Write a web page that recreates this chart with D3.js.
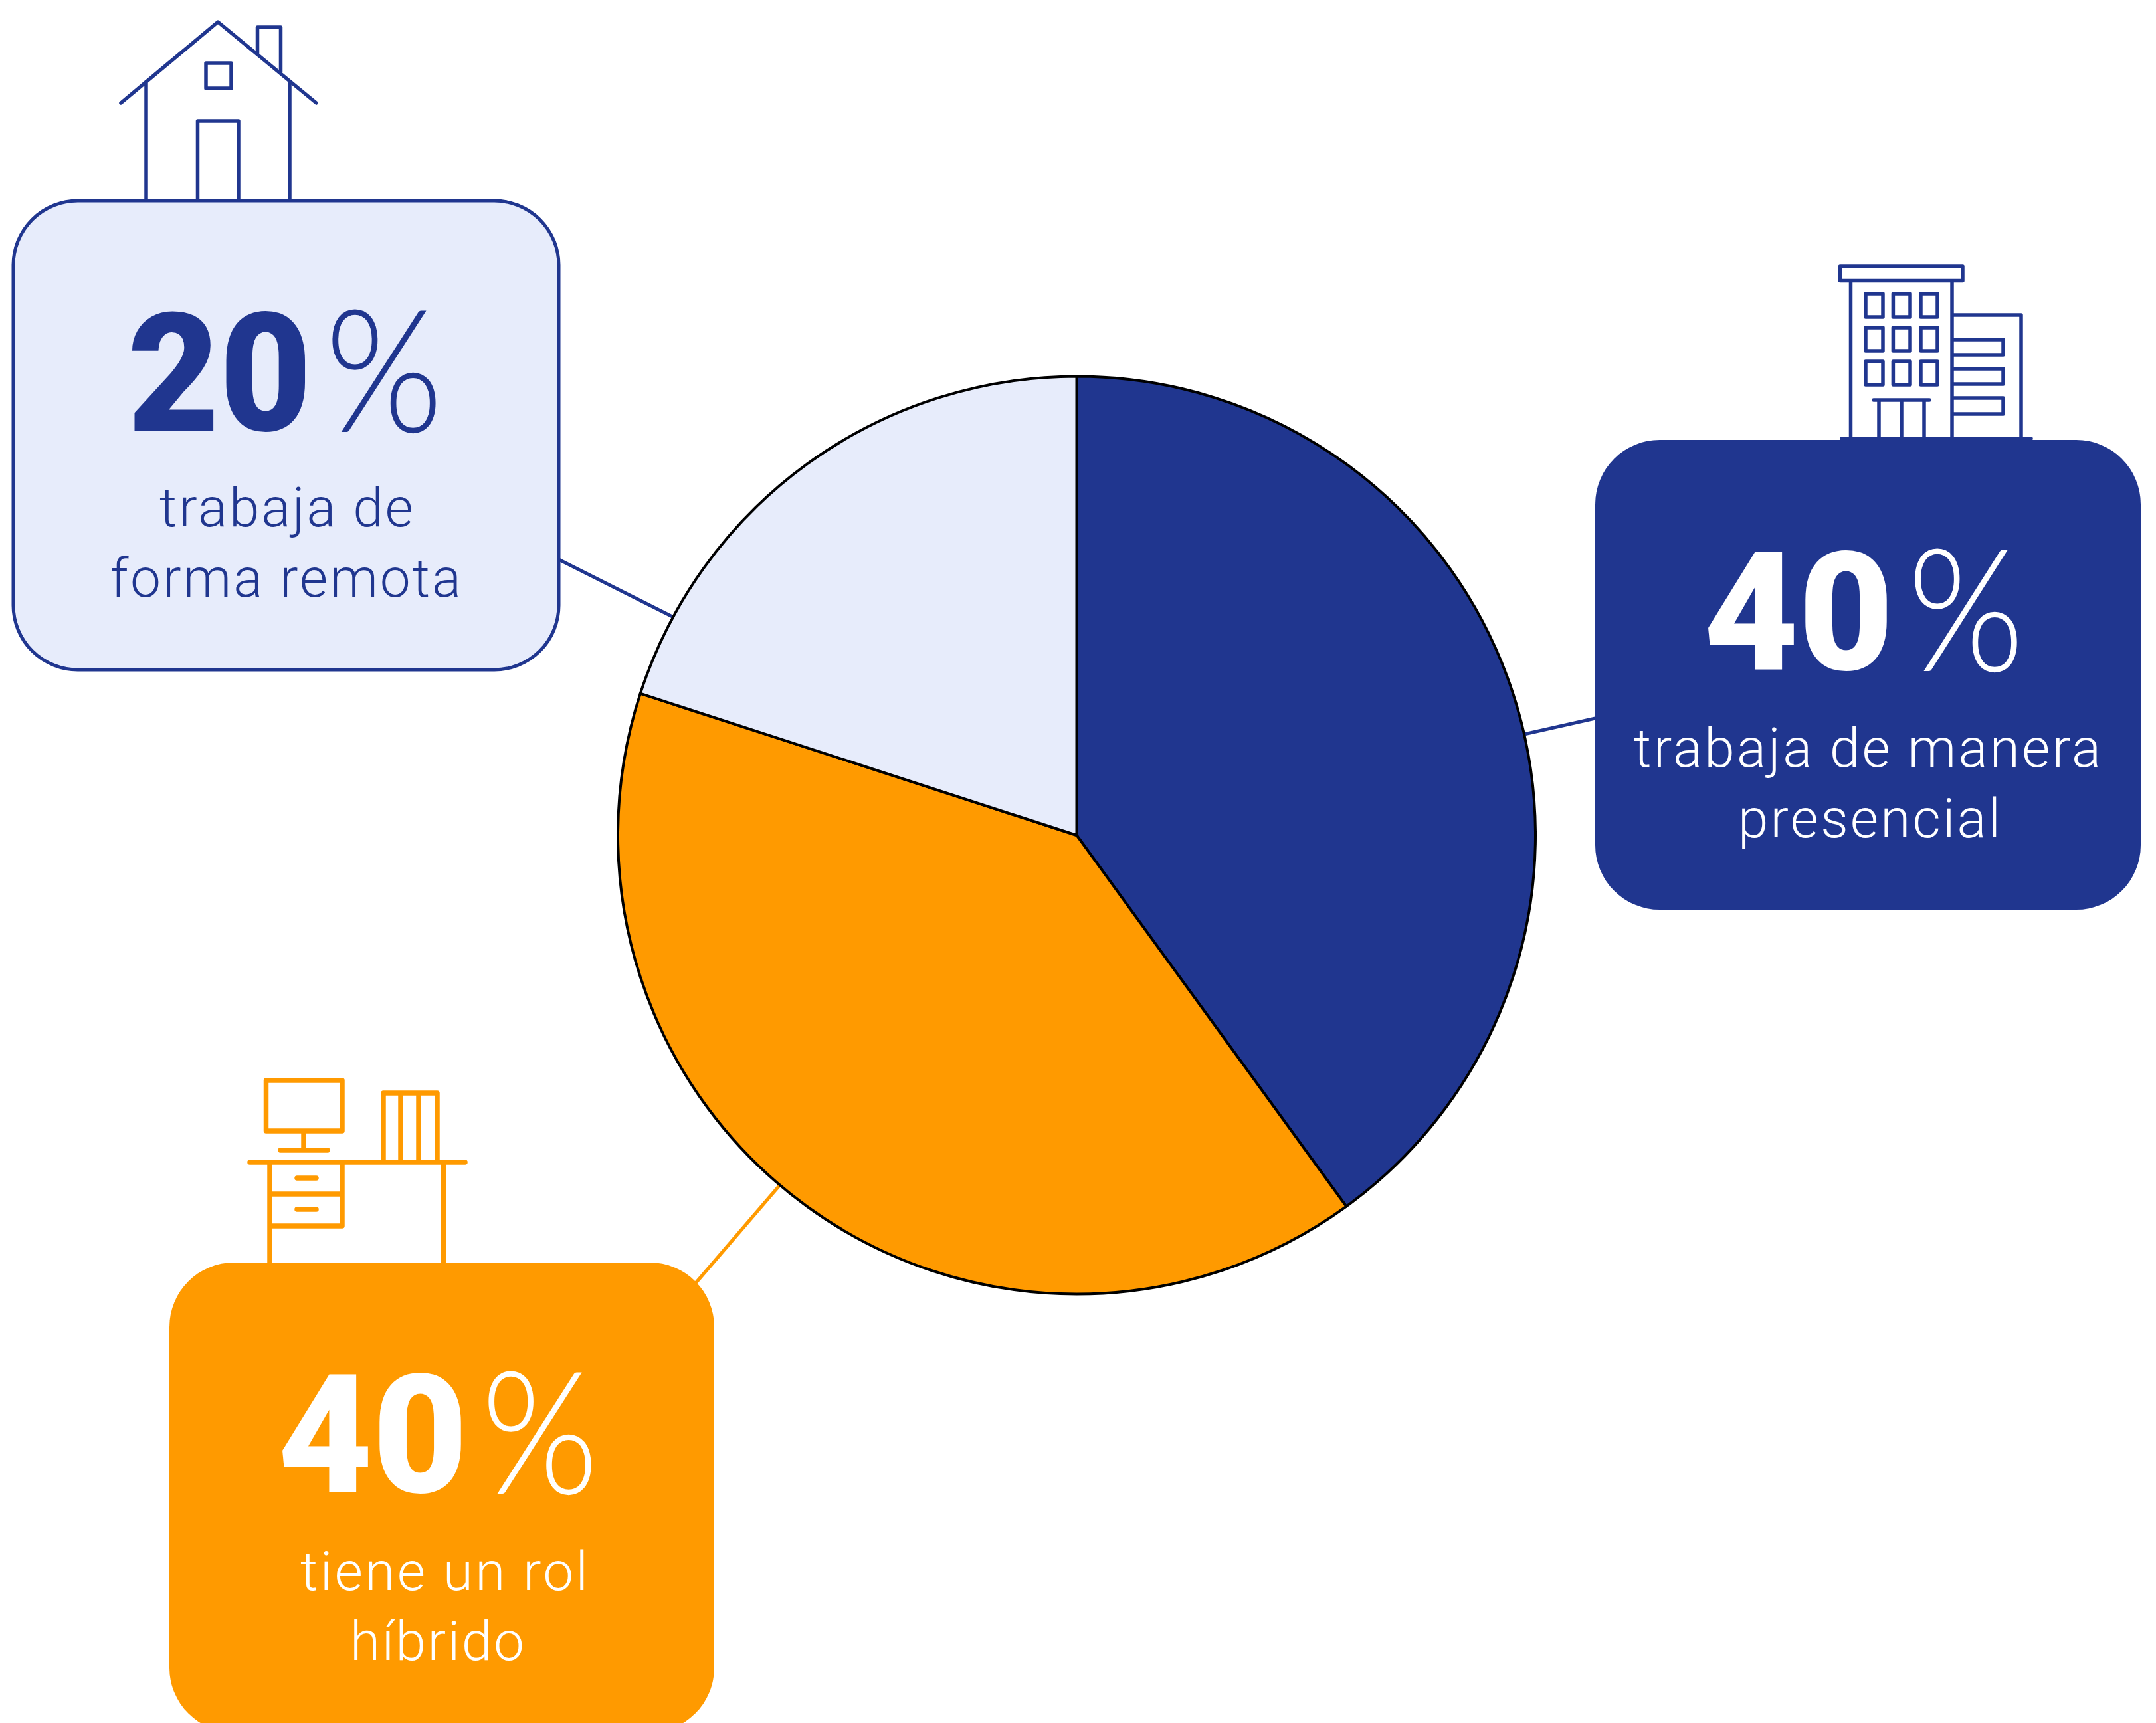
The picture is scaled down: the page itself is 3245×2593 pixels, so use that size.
<!DOCTYPE html>
<html>
<head>
<meta charset="utf-8">
<script src="https://cdn.jsdelivr.net/npm/d3@7"></script>
<style>
  html, body { margin: 0; padding: 0; background: #fff; }
  svg { display: block; }
  text { font-family: Roboto, sans-serif; }
</style>
</head>
<body>
<svg id="chart"></svg>
<script>
var screen_ = {width: 3245, height: 2593};

// data
var categories = ["presencial", "hibrido", "remota"];
var values = [40, 40, 20];
var captions = [
  ["trabaja de manera", "presencial"],
  ["tiene un rol", "híbrido"],
  ["trabaja de", "forma remota"]
];

// styles
var navy = "#20368f", orange = "#ff9a00", pale = "#e7ecfb";
var sliceColors = [navy, orange, pale];
var lineColors = [navy, orange, navy];
var textColors = ["#fff", "#fff", navy];
var boxStrokes = ["none", "none", navy];

// layout, one entry per category
var boxes = [
  {x: 2401, y: 662, w: 821, h: 707},
  {x: 255, y: 1900, w: 820, h: 707},
  {x: 20, y: 302, w: 821, h: 706}
];
var numberPos = [
  {x: 2564, w: 286, px: 2871, pw: 176, y: 1008},
  {x: 418, w: 286, px: 724, pw: 177, y: 2246},
  {x: 192, w: 277, px: 489, pw: 178, y: 648}
];
var captionPos = [
  [{x: 2459, w: 703, y: 1154}, {x: 2616, w: 395, y: 1260}],
  [{x: 452, w: 433, y: 2393}, {x: 527, w: 262, y: 2498}],
  [{x: 240, w: 382, y: 792}, {x: 166, w: 528, y: 898}]
];
var leaders = [
  [[2294, 1105], [2401, 1081]],
  [[1175, 1782], [1047, 1931]],
  [[841, 842], [1012, 928]]
];

var svg = d3.select("#chart")
  .attr("width", screen_.width)
  .attr("height", screen_.height)
  .attr("viewBox", "0 0 " + screen_.width + " " + screen_.height);

svg.append("rect")
  .attr("width", screen_.width)
  .attr("height", screen_.height)
  .attr("fill", "#fff");

// leader lines go under everything else
svg.append("g").selectAll("path")
  .data(leaders)
  .enter()
  .append("path")
  .attr("d", d3.line())
  .attr("fill", "none")
  .attr("stroke", function(d, i){ return lineColors[i]; })
  .attr("stroke-width", 5);

// pie
var pie = d3.pie().sort(null).value(function(d){ return d; });
var arc = d3.arc().innerRadius(0).outerRadius(690.5);

svg.append("g")
  .attr("transform", "translate(1620.5,1257)")
  .selectAll("path")
  .data(pie(values))
  .enter()
  .append("path")
  .attr("d", arc)
  .attr("fill", function(d, i){ return sliceColors[i]; })
  .attr("stroke", "#000")
  .attr("stroke-width", 4)
  .attr("stroke-linejoin", "round");

// icons
var houseIcon = "M182,155 L328,33 L476,155 M220,123 V302 M436,123 V302 " +
  "M297.5,302 V182 H359 V302 M310,95 H348 V133 H310 Z " +
  "M387.5,81 V41 H422.5 V108";

var buildingIcon = "M2769.5,401 H2954 V422.6 H2769.5 Z M2785.5,422.6 V660 M2938,422.6 V660 " +
  "M2808,442 H2834 V477 H2808 Z M2849.4,442 H2875 V477 H2849.4 Z M2891,442 H2916 V477 H2891 Z " +
  "M2808,493 H2834 V528 H2808 Z M2849.4,493 H2875 V528 H2849.4 Z M2891,493 H2916 V528 H2891 Z " +
  "M2808,544 H2834 V579 H2808 Z M2849.4,544 H2875 V579 H2849.4 Z M2891,544 H2916 V579 H2891 Z " +
  "M2820,602 H2904 M2828,602 V660 M2862,602 V660 M2896,602 V660 " +
  "M2938,474 H3042 V660 " +
  "M2938,511 H3015 V534 H2938 M2938,555 H3015 V578 H2938 M2938,599 H3015 V623 H2938 " +
  "M2772,660 H3057";

var deskIcon = "M400.5,1626 H515 V1702 H400.5 Z M457,1702 V1731 M422,1731 H493 " +
  "M376,1749 H700 M406,1749 V1905 M667.5,1749 V1905 " +
  "M515,1749 V1845 H406 M406,1797 H515 M447,1773 H476 M447,1820 H476 " +
  "M577,1749 V1645 H658 V1749 M603,1645 V1749 M630,1645 V1749";

var icons = [
  {d: buildingIcon, color: navy, width: 5.5},
  {d: deskIcon, color: orange, width: 7.5},
  {d: houseIcon, color: navy, width: 5.5}
];

svg.append("g").selectAll("path")
  .data(icons)
  .enter()
  .append("path")
  .attr("d", function(d){ return d.d; })
  .attr("fill", "none")
  .attr("stroke", function(d){ return d.color; })
  .attr("stroke-width", function(d){ return d.width; })
  .attr("stroke-linecap", "round")
  .attr("stroke-linejoin", "round");

// callout boxes
var callouts = svg.append("g").selectAll("g")
  .data(categories)
  .enter()
  .append("g");

callouts.append("rect")
  .attr("x", function(d, i){ return boxes[i].x; })
  .attr("y", function(d, i){ return boxes[i].y; })
  .attr("width", function(d, i){ return boxes[i].w; })
  .attr("height", function(d, i){ return boxes[i].h; })
  .attr("rx", 97)
  .attr("ry", 97)
  .attr("fill", function(d, i){ return sliceColors[i]; })
  .attr("stroke", function(d, i){ return boxStrokes[i]; })
  .attr("stroke-width", 5);

callouts.append("text")
  .attr("x", function(d, i){ return numberPos[i].x; })
  .attr("y", function(d, i){ return numberPos[i].y; })
  .attr("textLength", function(d, i){ return numberPos[i].w; })
  .attr("lengthAdjust", "spacingAndGlyphs")
  .attr("font-size", 248)
  .attr("font-weight", 900)
  .attr("fill", function(d, i){ return textColors[i]; })
  .text(function(d, i){ return values[i]; });

callouts.append("text")
  .attr("x", function(d, i){ return numberPos[i].px; })
  .attr("y", function(d, i){ return numberPos[i].y + 2; })
  .attr("textLength", function(d, i){ return numberPos[i].pw; })
  .attr("lengthAdjust", "spacingAndGlyphs")
  .attr("font-size", 258)
  .attr("font-weight", 300)
  .style("font-family", "Lato")
  .attr("fill", function(d, i){ return textColors[i]; })
  .text("%");

callouts.each(function(d, i){
  d3.select(this).selectAll("text.caption")
    .data(captions[i])
    .enter()
    .append("text")
    .attr("class", "caption")
    .attr("x", function(t, j){ return captionPos[i][j].x; })
    .attr("y", function(t, j){ return captionPos[i][j].y; })
    .attr("textLength", function(t, j){ return captionPos[i][j].w; })
    .attr("lengthAdjust", "spacing")
    .attr("font-size", 82)
    .attr("font-weight", 300)
    .attr("fill", textColors[i])
    .text(function(t){ return t; });
});
</script>
</body>
</html>
